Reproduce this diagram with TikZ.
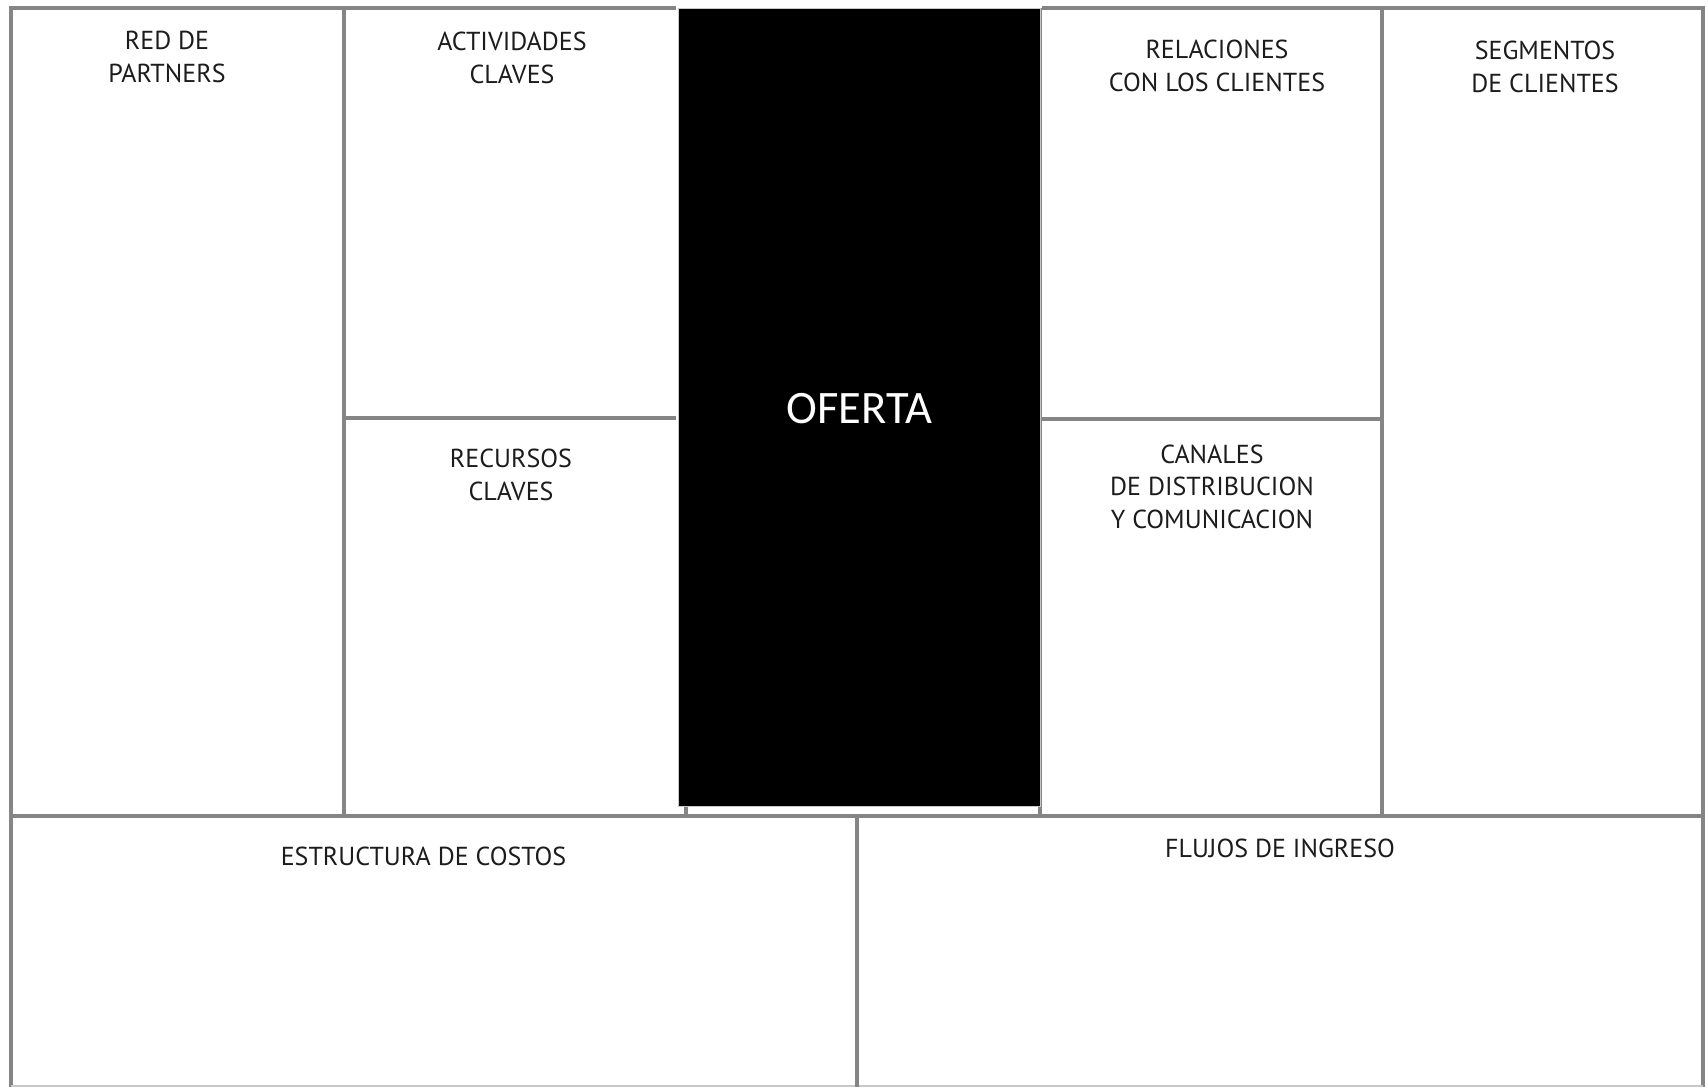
\documentclass[tikz,border=0pt]{standalone}
\usepackage{fontspec}
\setmainfont{PT Sans}
\newfontfamily\calibrifont{Carlito}
\definecolor{linegray}{HTML}{858585}
\definecolor{boxedge}{HTML}{C8C8C8}
\definecolor{ink}{HTML}{1C1C1C}
\begin{document}
\begin{tikzpicture}[x=1pt,y=-1pt,
  panel/.style={draw=linegray,line width=3.5pt},
  lbl/.style={anchor=base,align=center,inner sep=0pt,text=ink,
    font=\fontsize{26}{32.5}\selectfont}]
\useasboundingbox[fill=white] (0,0) rectangle (1708,1087);
% hidden verticals beneath the offer box
\draw[panel] (686,8) -- (686,816);
\draw[panel] (1040,8) -- (1040,816);
% outer frame
\draw[panel] (11,1087) -- (11,8) -- (676,8);
\draw[panel] (1042,8) -- (1703,8) -- (1703,1087);
\draw[draw=boxedge,line width=1.5pt] (11,1086) -- (1703,1086);
% inner dividers
\draw[panel] (344,8) -- (344,816);
\draw[panel] (344,418) -- (676,418);
\draw[panel] (1382,8) -- (1382,816);
\draw[panel] (1042,419) -- (1382,419);
\draw[panel] (11,816) -- (1703,816);
\draw[panel] (857,816) -- (857,1087);
% offer box
\node[draw=boxedge,line width=1pt,fill=black,minimum width=362pt,minimum height=798pt,
  inner sep=0pt,anchor=north west] (oferta) at (678,8) {};
\node[anchor=base,inner sep=0pt,text=white,font=\calibrifont\fontsize{46.5}{50}\selectfont]
  (ofertatxt) at (859.5,423) {OFERTA};
% labels (base anchor = baseline of the last line)
\node[lbl] (red) at (167,82) {RED DE\\PARTNERS};
\node[lbl] (act) at (512,83) {ACTIVIDADES\\CLAVES};
\node[lbl] (rec) at (511,500) {RECURSOS\\CLAVES};
\node[lbl] (rel) at (1217,91) {RELACIONES\\CON LOS CLIENTES};
\node[lbl] (seg) at (1545,92) {SEGMENTOS\\DE CLIENTES};
\node[lbl] (can) at (1212,528) {CANALES\\DE DISTRIBUCION\\Y COMUNICACION};
\node[lbl] (cost) at (423.5,865) {ESTRUCTURA DE COSTOS};
\node[lbl] (flu) at (1280,857) {FLUJOS DE INGRESO};
\end{tikzpicture}
\end{document}
